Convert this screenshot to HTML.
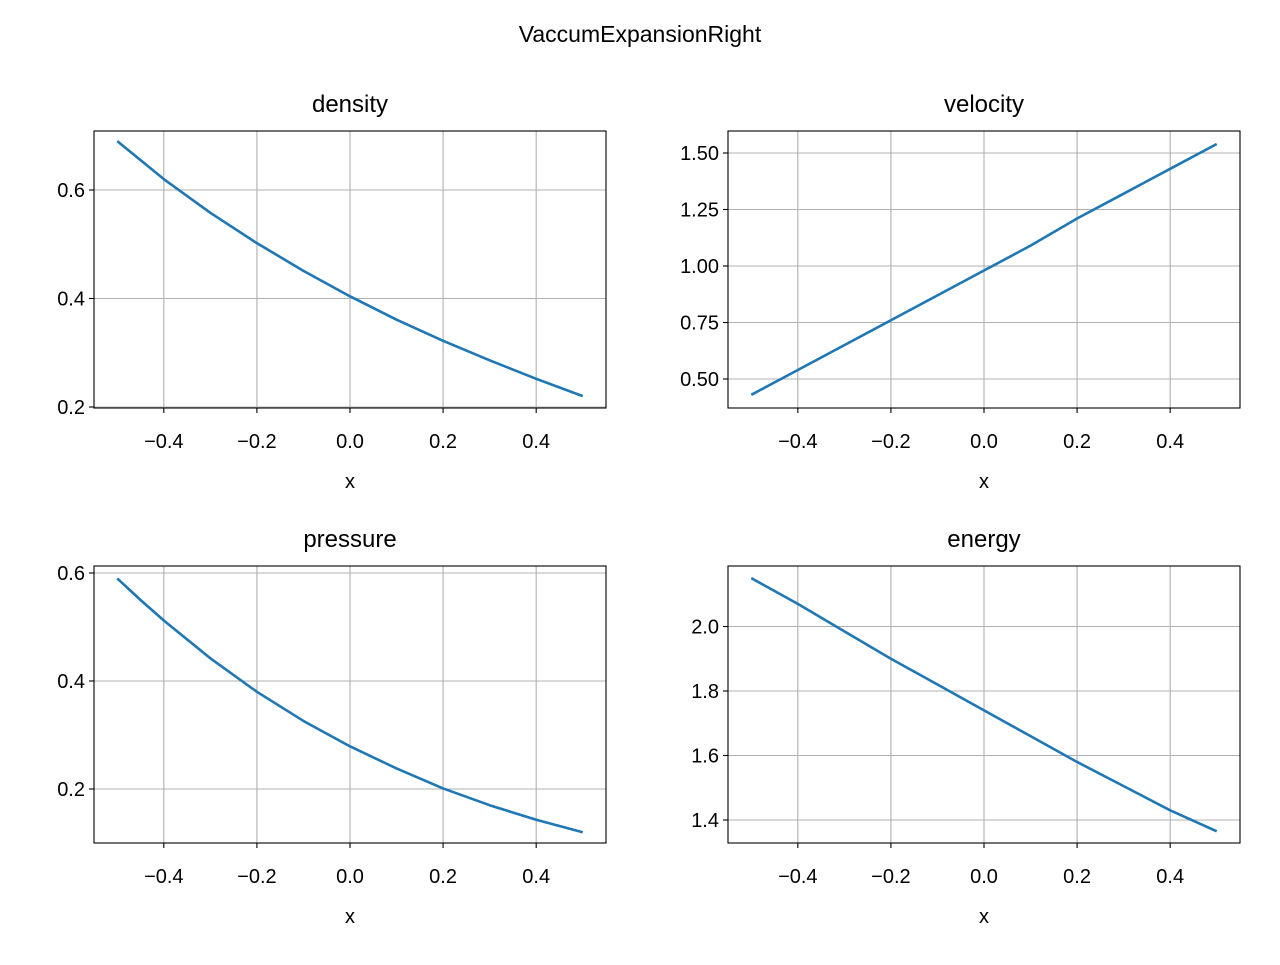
<!DOCTYPE html>
<html><head><meta charset="utf-8"><style>
body{margin:0;background:#fff}
svg text{font-family:"Liberation Sans","DejaVu Sans",sans-serif;fill:#000}
</style></head><body>
<svg id="fig" width="1280" height="960" xmlns="http://www.w3.org/2000/svg">
<text x="640" y="42" font-size="23" text-anchor="middle">VaccumExpansionRight</text>
</svg>
<script>
const xValues=[-0.5,-0.45,-0.4,-0.3,-0.2,-0.1,0,0.1,0.2,0.3,0.4,0.5];
const densityValues=[0.69,0.655,0.62,0.558,0.502,0.451,0.404,0.361,0.322,0.286,0.252,0.22];
const velocityValues=[0.43,0.485,0.54,0.65,0.76,0.87,0.98,1.09,1.21,1.32,1.43,1.54];
const pressureValues=[0.59,0.55,0.512,0.442,0.38,0.326,0.279,0.238,0.201,0.17,0.143,0.12];
const energyValues=[2.15,2.11,2.07,1.985,1.90,1.82,1.74,1.66,1.58,1.505,1.43,1.365];
const xTicks=[-0.4,-0.2,0,0.2,0.4];
const xTickLabels=["\u22120.4","\u22120.2","0.0","0.2","0.4"];
const densityTicks=[0.2,0.4,0.6], densityLabels=["0.2","0.4","0.6"];
const velocityTicks=[0.5,0.75,1.0,1.25,1.5], velocityLabels=["0.50","0.75","1.00","1.25","1.50"];
const pressureTicks=[0.2,0.4,0.6], pressureLabels=["0.2","0.4","0.6"];
const energyTicks=[1.4,1.6,1.8,2.0], energyLabels=["1.4","1.6","1.8","2.0"];
const NS="http://www.w3.org/2000/svg";
const svg=document.getElementById('fig');
function el(t,a,p){const e=document.createElementNS(NS,t);for(const k in a)e.setAttribute(k,a[k]);(p||svg).appendChild(e);return e;}
function panel(name,L,T,R,B,ymin,ymax,vals,yt,yl){
  const g=el('g',{});
  
  
  const xmin=-0.55,xmax=0.55;
  const sx=v=>L+(v-xmin)/(xmax-xmin)*(R-L);
  const sy=v=>B-(v-ymin)/(ymax-ymin)*(B-T);
  xTicks.forEach((v,i)=>{const x=sx(v);
    el('line',{x1:x,x2:x,y1:T,y2:B,stroke:'#b0b0b0','stroke-width':1.1},g);
    el('line',{x1:x,x2:x,y1:B,y2:B+5,stroke:'#000','stroke-width':1.1},g);
    const t=el('text',{x:x,y:B+40,'font-size':20,'text-anchor':'middle'},g);t.textContent=xTickLabels[i];
    
    });
  yt.forEach((v,i)=>{const y=sy(v);
    el('line',{x1:L,x2:R,y1:y,y2:y,stroke:'#b0b0b0','stroke-width':1.1},g);
    el('line',{x1:L-5,x2:L,y1:y,y2:y,stroke:'#000','stroke-width':1.1},g);
    const t=el('text',{x:L-9,y:y+7,'font-size':20,'text-anchor':'end'},g);t.textContent=yl[i];
    
    });
  const p=el('polyline',{points:xValues.map((x,i)=>sx(x)+','+sy(vals[i])).join(' '),fill:'none',stroke:'#1f77b4','stroke-width':2.6,'stroke-linejoin':'round'},g);
  
  
  el('rect',{x:L,y:T,width:R-L,height:B-T,fill:'none',stroke:'#000','stroke-width':1.1},g);
  const tt=el('text',{x:(L+R)/2,y:T-19,'font-size':24,'text-anchor':'middle'},g);tt.textContent=name;
  
  
  const xl=el('text',{x:(L+R)/2,y:B+80,'font-size':20,'text-anchor':'middle'},g);xl.textContent='x';
  
  
}
panel('density',94,131,606,408,0.2-1/542.5,0.2+(407-131)/542.5,densityValues,densityTicks,densityLabels);
panel('velocity',728,131,1240,408,0.5-(408-379)/226,0.5+(379-131)/226,velocityValues,velocityTicks,velocityLabels);
panel('pressure',94,566,606,843,0.2-(843-789)/540,0.2+(789-566)/540,pressureValues,pressureTicks,pressureLabels);
panel('energy',728,566,1240,843,1.4-(843-820)/322.5,1.4+(820-566)/322.5,energyValues,energyTicks,energyLabels);
</script>
</body></html>
